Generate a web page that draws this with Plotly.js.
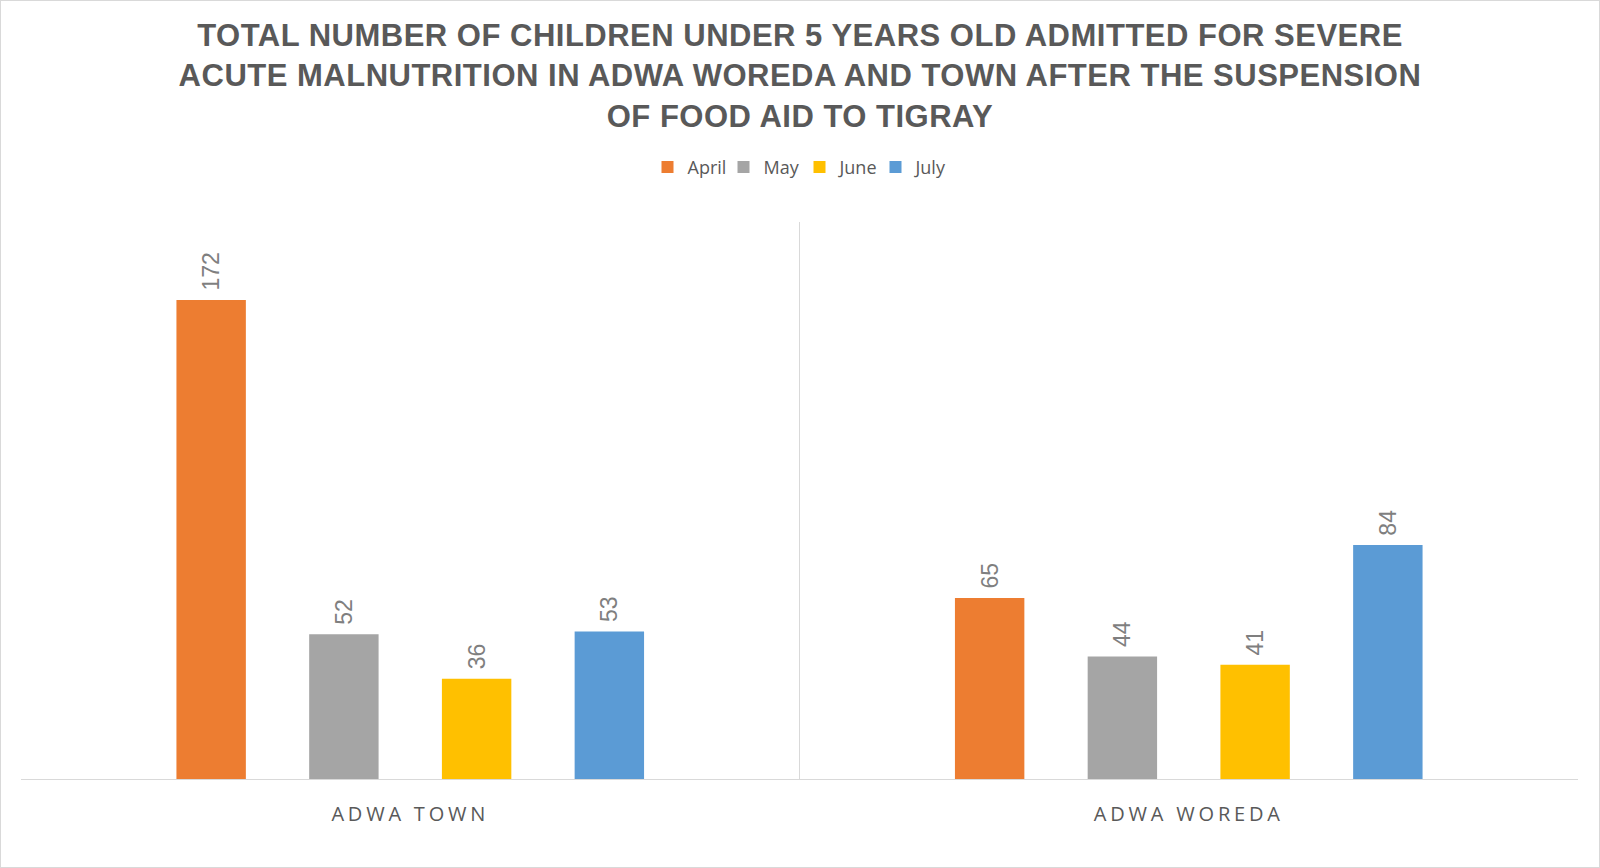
<!DOCTYPE html>
<html>
<head>
<meta charset="utf-8">
<script src="https://cdn.plot.ly/plotly-3.0.1.min.js"></script>
<style>
  html, body { margin: 0; padding: 0; background: #ffffff; }
  #chart { width: 1600px; height: 868px; box-sizing: border-box; border: 1px solid #d9d9d9; }
  #chart .gtitle { letter-spacing: 0.5px; }
  #chart .xtick text { letter-spacing: 3.8px; }
</style>
</head>
<body>
<div id="chart"></div>
<script>
const categories = ["ADWA TOWN", "ADWA WOREDA"];
const months = ["April", "May", "June", "July"];
const aprilValues = [172, 65];
const mayValues = [52, 44];
const juneValues = [36, 41];
const julyValues = [53, 84];
const colors = ["#ED7D31", "#A5A5A5", "#FFC000", "#5B9BD5"];
const titleText = "TOTAL NUMBER OF CHILDREN UNDER 5 YEARS OLD ADMITTED FOR SEVERE<br>ACUTE MALNUTRITION IN ADWA WOREDA AND TOWN AFTER THE SUSPENSION<br>OF FOOD AID TO TIGRAY";

const seriesValues = [aprilValues, mayValues, juneValues, julyValues];
const traces = months.map((m, i) => ({
  type: "bar",
  name: m,
  x: categories,
  y: seriesValues[i],
  marker: { color: colors[i] },
  texttemplate: "\u00A0%{y}",
  textposition: "outside",
  textangle: -90,
  cliponaxis: false,
  textfont: { family: "Liberation Sans, Arial, sans-serif", size: 23, color: "#7f7f7f" },
  hoverinfo: "x+y+name"
}));

const layout = {
  width: 1598,
  height: 866,
  paper_bgcolor: "#ffffff",
  plot_bgcolor: "#ffffff",
  margin: { l: 20, r: 21, t: 221, b: 88, pad: 0 },
  title: {
    text: titleText,
    font: { family: "Liberation Sans, Arial, sans-serif", size: 31, color: "#595959", weight: 700 },
    x: 0.5,
    xanchor: "center",
    y: 0.948,
    yanchor: "middle",
    yref: "container"
  },
  barmode: "group",
  bargap: 0.318,
  bargroupgap: 0.477,
  showlegend: true,
  legend: {
    orientation: "h",
    x: 0.5,
    xanchor: "center",
    y: 1.098,
    yanchor: "middle",
    entrywidth: 31,
    entrywidthmode: "pixels",
    font: { family: "Open Sans, sans-serif", size: 18, color: "#595959" },
    traceorder: "normal"
  },
  xaxis: {
    type: "category",
    tickson: "boundaries",
    showgrid: true,
    gridcolor: "#d9d9d9",
    gridwidth: 1,
    showline: true,
    linecolor: "#d9d9d9",
    linewidth: 1,
    ticks: "",
    ticklabelstandoff: 17,
    tickfont: { family: "Open Sans, sans-serif", size: 20, color: "#595959" },
    zeroline: false
  },
  yaxis: {
    range: [0, 200],
    visible: false,
    showgrid: false,
    zeroline: false
  }
};

Plotly.newPlot("chart", traces, layout, { displayModeBar: false, responsive: false });
</script>
</body>
</html>
